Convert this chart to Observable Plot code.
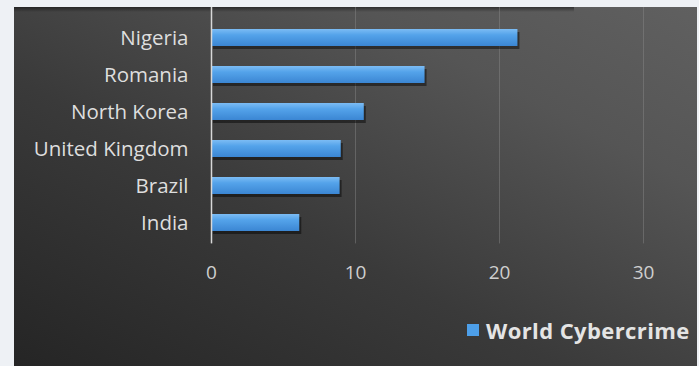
<!DOCTYPE html>
<html>
<head>
<meta charset="utf-8">
<script src="https://cdn.jsdelivr.net/npm/d3@7"></script>
<script src="https://cdn.jsdelivr.net/npm/@observablehq/plot@0.6"></script>
<style>
  html, body { margin: 0; padding: 0; background: #eef1f5; }
  #wrap { position: relative; width: 699px; height: 366px; overflow: hidden; background: #eef1f5; font-family: "Open Sans", Lato, sans-serif; }
  #panel { position: absolute; left: 14px; top: 7px; width: 683px; height: 359px; overflow: hidden;
    background: linear-gradient(to top right, #252525 0%, #3a3a3a 40%, #555555 75%, #606060 100%); }
  #topshade { position: absolute; left: 0; top: 0; width: 560px; height: 5px;
    background: linear-gradient(to bottom, rgba(0,0,0,0.45), rgba(0,0,0,0)); }
  #chart { position: absolute; left: -14px; top: -7px; width: 715px; }
  #chart svg { max-width: none !important; }
  #legend { position: absolute; left: 453px; top: 307px; white-space: nowrap; font-weight: bold; font-size: 22px; letter-spacing: 0.4px; line-height: 32px; color: #e4e4e4; display: flex; align-items: center; }
  #legend .sw { width: 12px; height: 12px; background: #4d9fe9; margin-right: 7px; }
</style>
</head>
<body>
<div id="wrap">
  <div id="panel">
    <div id="topshade"></div>
    <div id="chart"></div>
    <div id="legend"><span class="sw"></span><span>World Cybercrime Index</span></div>
  </div>
</div>
<script>
const countries = ["Nigeria", "Romania", "North Korea", "United Kingdom", "Brazil", "India"];
const values = [21.28, 14.83, 10.61, 9.01, 8.93, 6.13];
const xTicks = [0, 10, 20, 30];
const gridTicks = [10, 20, 30];
const seriesName = "World Cybercrime Index";

const data = countries.map((c, i) => ({country: c, value: values[i]}));

const defs = () => {
  const d = d3.create("svg:defs");
  const g = d.append("linearGradient").attr("id", "barGrad").attr("x1", 0).attr("y1", 0).attr("x2", 0).attr("y2", 1);
  g.append("stop").attr("offset", "0%").attr("stop-color", "#7cbcf4");
  g.append("stop").attr("offset", "35%").attr("stop-color", "#54a3ea");
  g.append("stop").attr("offset", "100%").attr("stop-color", "#3b86d3");
  return d.node();
};

const chart = Plot.plot({
  width: 715,
  height: 366,
  marginLeft: 211,
  marginRight: 0,
  marginTop: 16.6,
  marginBottom: 122.6,
  style: {background: "transparent", fontFamily: "'Open Sans', Lato, sans-serif", overflow: "hidden", maxWidth: "none"},
  x: {domain: [0, 35]},
  y: {domain: countries, paddingInner: 0.55, paddingOuter: 0.275},
  marks: [
    defs,
    Plot.ruleX(gridTicks, {stroke: "#8a8a8a", strokeOpacity: 0.45, strokeWidth: 1, insetTop: -10}),
    Plot.barX(data, {x: "value", y: "country", fill: "#000", fillOpacity: 0.45, dy: 3, dx: 2}),
    Plot.barX(data, {x: "value", y: "country", fill: "url(#barGrad)"}),
    Plot.ruleX([0], {stroke: "#d8d8d8", strokeWidth: 1.5, insetTop: -10}),
    Plot.axisY({tickSize: 0, tickPadding: 23, fontSize: 20.5, fill: "#dedede", label: null}),
    Plot.axisX(xTicks, {tickSize: 0, tickPadding: 22, fontSize: 19, fill: "#cfcfcf", label: null})
  ]
});
document.getElementById("chart").appendChild(chart);
document.getElementById("legend").lastChild.textContent = seriesName;
</script>
</body>
</html>
